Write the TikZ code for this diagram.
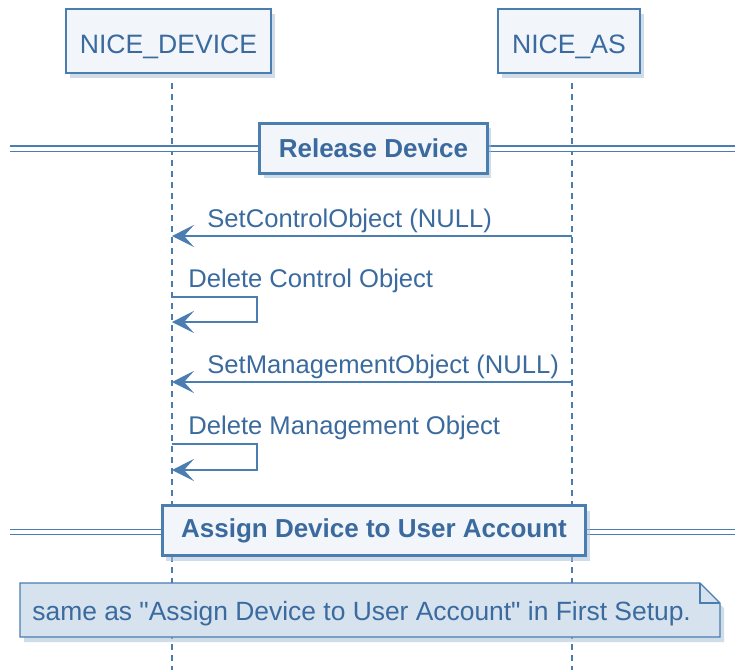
\documentclass[tikz,border=0pt]{standalone}
\usepackage{fontspec}
\setmainfont{Liberation Sans}
\newfontfamily\notefont{Liberation Sans}
\usetikzlibrary{positioning, arrows.meta, shadows}

\definecolor{umltext}{HTML}{3A6A9E}
\definecolor{umlline}{HTML}{4A7DB0}
\definecolor{umlbox}{HTML}{F2F5FA}
\definecolor{umlnote}{HTML}{D6E2EE}
\definecolor{umlshadow}{HTML}{A9BFD6}

\tikzset{
  umlshade/.style={drop shadow={shadow xshift=2pt, shadow yshift=-2.5pt, fill=umlshadow, opacity=0.55}},
  participant/.style={draw=umlline, line width=1pt, fill=umlbox, text=umltext, umlshade,
    minimum height=32pt, inner xsep=7pt, text height=12.5pt, text depth=0pt,
    font=\fontsize{13.3}{15}\selectfont},
  lifeline/.style={draw=umlline, line width=0.7pt, dash pattern=on 3pt off 2.5pt},
  msg/.style={draw=umlline, line width=0.75pt, -{Stealth[length=11pt, width=11pt, inset=5pt]}},
  msglabel/.style={text=umltext, font=\fontsize{12.8}{15}\selectfont, anchor=base west, inner sep=0pt},
  divline/.style={draw=umlline, line width=0.6pt, double=white, double distance=2pt},
  divider/.style={draw=umlline, line width=1.5pt, fill=umlbox, text=umltext, umlshade,
    minimum height=25pt, inner xsep=9.5pt, font=\bfseries\fontsize{13}{15}\selectfont},
  notebox/.style={draw=umlline, line width=0.7pt, fill=umlnote, umlshade},
  notetext/.style={text=umltext, font=\notefont\fontsize{13.2}{15}\selectfont, anchor=base west, inner sep=0pt}
}

\begin{document}
\begin{tikzpicture}[x=0.5pt, y=-0.5pt]
  \useasboundingbox (0,0) rectangle (735,670);

  % participants
  \node[participant] (dev) at (168.5,41) {NICE\_DEVICE};
  \node[participant] (as) at (569,41) {NICE\_AS};

  % lifelines
  \coordinate (devtop) at (172,83);
  \coordinate (devbot) at (172,670);
  \coordinate (astop) at (572,83);
  \coordinate (asbot) at (572,670);
  \draw[lifeline] (devtop) -- (devbot);
  \draw[lifeline] (astop) -- (asbot);

  % Release Device
  \coordinate (div1l) at (10,148.5);
  \coordinate (div1r) at (735,148.5);
  \draw[divline] (div1l) -- (div1r);
  \node[divider] (release) at (373.5,148) {Release Device};

  % messages
  \coordinate (as1) at (572,236);
  \coordinate (dev1) at (172,236);
  \draw[msg] (as1) -- (dev1);
  \node[msglabel] (m1) at (207,227) {SetControlObject (NULL)};

  \coordinate (self1a) at (172,297);
  \coordinate (self1b) at (172,322);
  \draw[msg] (self1a) -- (257,297) -- (257,322) -- (self1b);
  \node[msglabel] (m2) at (188,287) {Delete Control Object};

  \coordinate (as2) at (572,382);
  \coordinate (dev2) at (172,382);
  \draw[msg] (as2) -- (dev2);
  \node[msglabel] (m3) at (207,373) {SetManagementObject (NULL)};

  \coordinate (self2a) at (172,444);
  \coordinate (self2b) at (172,470);
  \draw[msg] (self2a) -- (257,444) -- (257,470) -- (self2b);
  \node[msglabel] (m4) at (188,434) {Delete Management Object};

  % Assign Device to User Account
  \coordinate (div2l) at (10,532);
  \coordinate (div2r) at (735,532);
  \draw[divline] (div2l) -- (div2r);
  \node[divider] (assign) at (374,530.5) {Assign Device to User Account};

  % note
  \path[notebox] (20,583) -- (700,583) -- (720,603) -- (720,637) -- (20,637) -- cycle;
  \draw[draw=umlline, line width=0.7pt] (700,583) -- (700,603) -- (720,603);
  \node[notetext] (note) at (32,620) {same as "Assign Device to User Account" in First Setup.};
\end{tikzpicture}
\end{document}
